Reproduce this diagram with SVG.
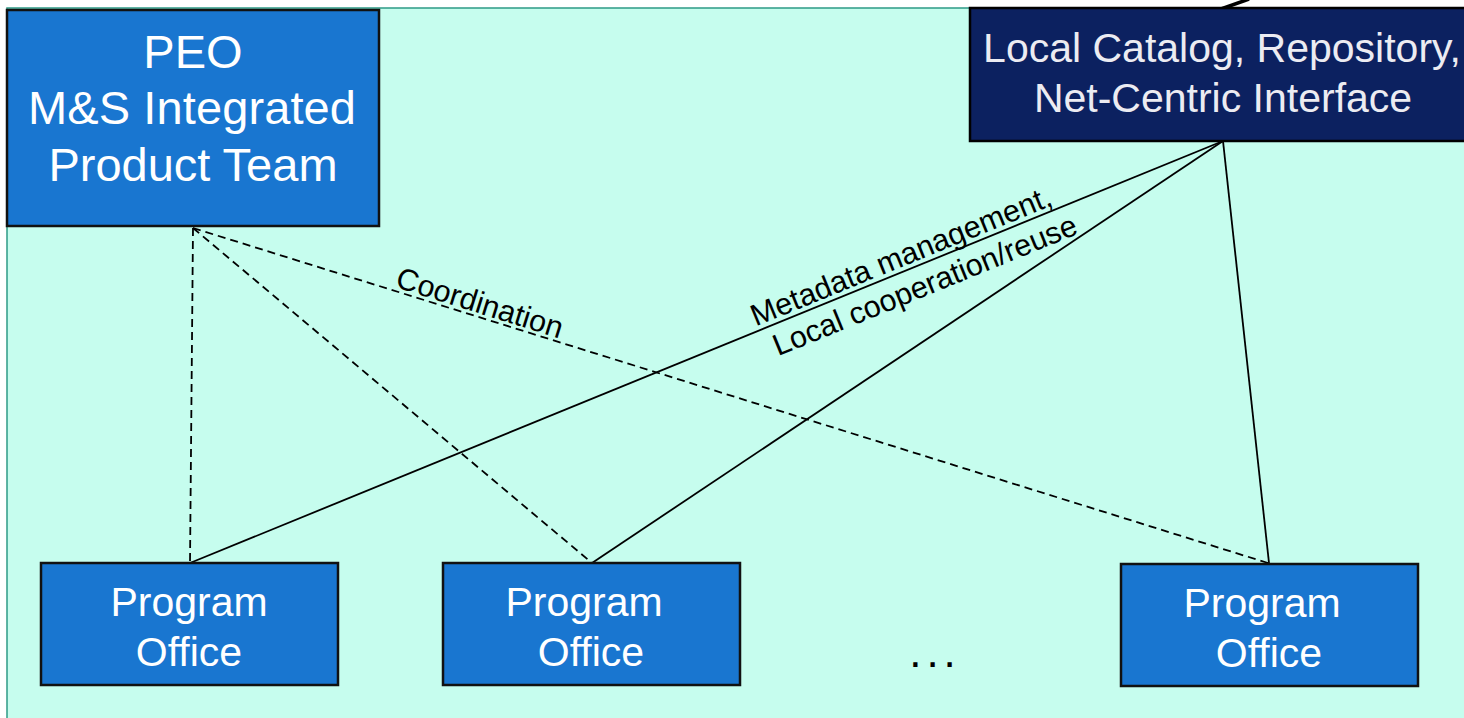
<svg xmlns="http://www.w3.org/2000/svg" width="1464" height="718" viewBox="0 0 1464 718">
<style>
.box{fill:#1976d0;stroke:#111;stroke-width:2.5}
.navy{fill:#0c2160;stroke:#000;stroke-width:2.5}
.wt{fill:#fff;font-family:"Liberation Sans",Arial,sans-serif;text-anchor:middle}
.lt{fill:#ececf2;font-family:"Liberation Sans",Arial,sans-serif;text-anchor:middle}
.lbl{fill:#000;font-family:"Liberation Sans",Arial,sans-serif;font-size:30.5px;text-anchor:middle}
.dash{stroke:#000;stroke-width:1.8;stroke-dasharray:8,5;fill:none}
.solid{stroke:#000;stroke-width:1.8;fill:none}
</style>
<rect x="0" y="0" width="1464" height="718" fill="#ffffff"/>
<rect x="7" y="8" width="1470" height="720" fill="#c6fdee" stroke="#2e9a86" stroke-width="1.5"/>
<line x1="1221" y1="9" x2="1249" y2="-1" stroke="#000" stroke-width="3.5"/>
<g id="connectors">
<line class="dash" x1="193" y1="228" x2="190" y2="563"/>
<line class="dash" x1="193" y1="228" x2="592" y2="563"/>
<line class="dash" x1="193" y1="228" x2="1268" y2="563"/>
<line class="solid" x1="1223" y1="141" x2="190" y2="563"/>
<line class="solid" x1="1223" y1="141" x2="592" y2="563"/>
<line class="solid" x1="1223" y1="141" x2="1269" y2="563"/>
<g transform="translate(476,315.5) rotate(17.36)"><text class="lbl" x="0" y="-3">Coordination</text></g>
<g transform="translate(905,271) rotate(-22.22)">
<text class="lbl" x="2" y="-5">Metadata management,</text>
<text class="lbl" x="13" y="31">Local cooperation/reuse</text>
</g>
</g>
<g id="peo">
<rect class="box" x="7" y="10" width="372" height="216"/>
<text class="wt" font-size="47" x="193" y="68">PEO</text>
<text class="wt" font-size="47" x="192" y="124" textLength="328" lengthAdjust="spacing">M&amp;S Integrated</text>
<text class="wt" font-size="47" x="193" y="181">Product Team</text>
</g>
<g id="catalog">
<rect class="navy" x="970" y="8" width="510" height="133"/>
<text class="lt" font-size="41" x="1222" y="62">Local Catalog, Repository,</text>
<text class="lt" font-size="41" x="1223" y="112">Net-Centric Interface</text>
</g>
<g id="po1">
<rect class="box" x="41" y="563" width="297" height="122"/>
<text class="wt" font-size="41" x="189" y="616">Program</text>
<text class="wt" font-size="41" x="189" y="666">Office</text>
</g>
<g id="po2">
<rect class="box" x="443" y="563" width="297" height="122"/>
<text class="wt" font-size="41" x="584" y="616">Program</text>
<text class="wt" font-size="41" x="591" y="666">Office</text>
</g>
<g id="po3">
<rect class="box" x="1121" y="564" width="297" height="122"/>
<text class="wt" font-size="41" x="1262" y="617">Program</text>
<text class="wt" font-size="41" x="1269" y="667">Office</text>
</g>
<g id="ellipsis">
<text x="935" y="667" font-family="Liberation Sans,Arial,sans-serif" font-size="44" letter-spacing="5" text-anchor="middle" fill="#000">...</text>
</g>
</svg>
